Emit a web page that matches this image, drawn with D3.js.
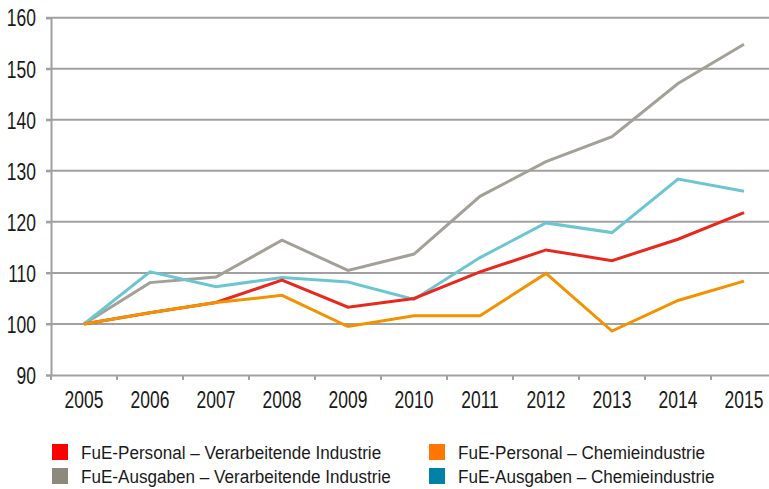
<!DOCTYPE html>
<html>
<head>
<meta charset="utf-8">
<script src="https://cdn.jsdelivr.net/npm/d3@7"></script>
<style>
  body { margin: 0; background: #fff; }
  svg text { font-family: "Liberation Sans", Arial, sans-serif; fill: #1a1a1a; }
</style>
</head>
<body>
<div id="root"></div>
<script>
const width = 769;
const height = 489;

const years = ["2005","2006","2007","2008","2009","2010","2011","2012","2013","2014","2015"];
const yTicks = [90, 100, 110, 120, 130, 140, 150, 160];

// index values, 2005 = 100
const personalVerarb = [100, 102.2, 104.2, 108.6, 103.3, 105.0, 110.2, 114.5, 112.4, 116.6, 121.8];
const personalChemie = [100, 102.2, 104.2, 105.6, 99.5, 101.6, 101.6, 109.9, 98.6, 104.6, 108.4];
const ausgabenVerarb = [100, 108.1, 109.2, 116.4, 110.5, 113.7, 125.0, 131.8, 136.7, 147.1, 154.8];
const ausgabenChemie = [100, 110.2, 107.3, 109.1, 108.2, 104.8, 113.0, 119.8, 117.9, 128.4, 126.0];

const legendLabels = [
	"FuE-Personal – Verarbeitende Industrie",
	"FuE-Personal – Chemieindustrie",
	"FuE-Ausgaben – Verarbeitende Industrie",
	"FuE-Ausgaben – Chemieindustrie"
];
const lineColors = ["#e8281e", "#f39200", "#a3a097", "#6cc6d2"];
const legendColors = ["#ff0000", "#ff7700", "#8c897d", "#0081a6"];

const series = [personalVerarb, personalChemie, ausgabenVerarb, ausgabenChemie];
// draw order: grey, cyan, red, orange on top
const drawOrder = [2, 3, 0, 1];

const margin = {left: 51, top: 17.7, bottom: 114};
const plotRight = 777;
const gridColor = "#a0a0a0";
// the original uses a condensed face, squeeze a regular one
const squeeze = 0.76;
const legendSqueeze = 0.9;

const x = d3.scaleBand()
	.domain(years)
	.range([margin.left, plotRight]);

const y = d3.scaleLinear()
	.domain([90, 160])
	.range([height - margin.bottom, margin.top]);

const svg = d3.select("#root")
	.append("svg")
	.attr("width", width)
	.attr("height", height);

// horizontal grid
svg.append("g")
	.selectAll("line")
	.data(yTicks.filter(d => d > 90)).enter()
	.append("line")
		.attr("x1", margin.left - 5)
		.attr("x2", plotRight)
		.attr("y1", d => y(d))
		.attr("y2", d => y(d))
		.style("stroke", gridColor)
		.style("stroke-width", 2);

// y axis
const yAxis = svg.append("g")
	.attr("transform", `translate(${margin.left},0)`)
	.call(d3.axisLeft(y).tickValues(yTicks).tickSize(5));
yAxis.select(".domain").style("stroke", gridColor).style("stroke-width", 2);
yAxis.selectAll(".tick line").style("stroke", gridColor).style("stroke-width", 2);
yAxis.selectAll(".tick text")
	.style("font-size", "23px")
	.attr("x", -15 / squeeze)
	.attr("dy", "0.36em")
	.attr("transform", `scale(${squeeze},1)`);

// x axis
const xAxis = svg.append("g")
	.attr("transform", `translate(0,${y(90)})`)
	.call(d3.axisBottom(x).tickSize(0));
xAxis.select(".domain").style("stroke", gridColor).style("stroke-width", 2);
xAxis.selectAll(".tick text")
	.style("font-size", "23px")
	.attr("y", 17)
	.attr("dy", "0.71em")
	.attr("transform", `scale(${squeeze},1)`);

// tick marks on the band boundaries
svg.append("g")
	.selectAll("line")
	.data(years).enter()
	.append("line")
		.attr("x1", d => x(d))
		.attr("x2", d => x(d))
		.attr("y1", y(90))
		.attr("y2", y(90) + 5)
		.style("stroke", gridColor)
		.style("stroke-width", 2);

const line = d3.line()
	.x((d, i) => x(years[i]) + x.bandwidth() / 2)
	.y(d => y(d));

svg.append("g")
	.selectAll("path")
	.data(drawOrder).enter()
	.append("path")
		.attr("d", i => line(series[i]))
		.style("fill", "none")
		.style("stroke", i => lineColors[i])
		.style("stroke-width", 3)
		.style("stroke-linejoin", "miter");

// legend
const legend = svg.append("g")
	.selectAll("g")
	.data(legendLabels).enter()
	.append("g")
		.attr("transform", (d, i) => `translate(${i % 2 === 0 ? 52 : 429}, ${i < 2 ? 444 : 468})`);

legend.append("rect")
	.attr("width", 16)
	.attr("height", 16)
	.style("fill", (d, i) => legendColors[i]);

legend.append("text")
	.attr("x", 29 / legendSqueeze)
	.attr("y", 8)
	.attr("dy", "0.36em")
	.attr("transform", `scale(${legendSqueeze},1)`)
	.style("font-size", "19px")
	.text(d => d);
</script>
</body>
</html>
